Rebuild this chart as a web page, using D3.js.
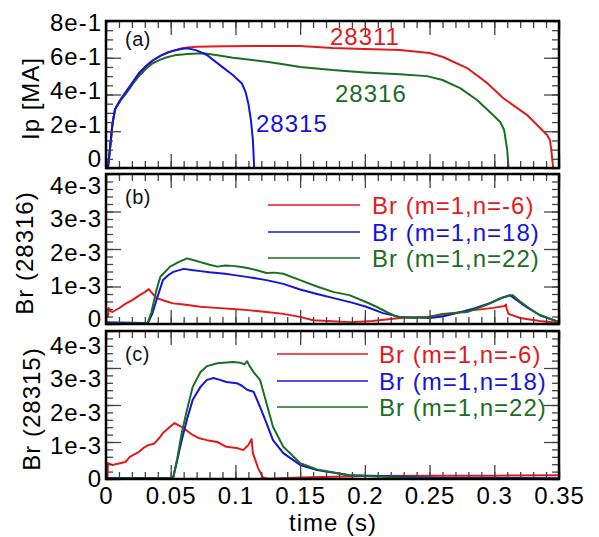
<!DOCTYPE html>
<html><head><meta charset="utf-8">
<script src="https://cdn.jsdelivr.net/npm/d3@7/dist/d3.min.js"></script>
<style>
body{margin:0;background:#fff;}
text{font-family:"Liberation Sans",Arial,sans-serif;}
</style></head>
<body><svg id="c" width="599" height="537"></svg>
<script>
// ---------- DATA ----------
const xTicks = [0, 0.05, 0.1, 0.15, 0.2, 0.25, 0.3, 0.35];
const xTickLabels = ["0","0.05","0.1","0.15","0.2","0.25","0.3","0.35"];
const ipTicks = [0, 0.2, 0.4, 0.6, 0.8];
const brTicks = [0, 0.001, 0.002, 0.003, 0.004];
const shots = ["28311", "28316", "28315"];
const modes = ["Br (m=1,n=-6)", "Br (m=1,n=18)", "Br (m=1,n=22)"];

// Panel (a): Ip [MA] vs time (s)
const ip28311 = [[0,0],[0.0015,0],[0.003,0.1],[0.005,0.24],[0.007,0.32],[0.011,0.37],[0.016,0.42],[0.021,0.47],[0.026,0.52],[0.031,0.555],[0.036,0.585],[0.042,0.61],[0.047,0.627],[0.053,0.64],[0.058,0.65],[0.063,0.656],[0.07,0.66],[0.09,0.662],[0.12,0.664],[0.15,0.664],[0.175,0.653],[0.2,0.648],[0.227,0.642],[0.25,0.626],[0.2604,0.604],[0.279,0.544],[0.2944,0.463],[0.3068,0.381],[0.3254,0.288],[0.3408,0.18],[0.343,0.152],[0.344,0.1],[0.3455,0]];
const ip28316 = [[0,0],[0.0015,0],[0.003,0.1],[0.005,0.24],[0.007,0.32],[0.011,0.365],[0.016,0.41],[0.021,0.46],[0.026,0.505],[0.031,0.54],[0.036,0.57],[0.042,0.59],[0.047,0.603],[0.053,0.613],[0.063,0.621],[0.075,0.624],[0.085,0.615],[0.098,0.6],[0.11,0.59],[0.124,0.578],[0.137,0.565],[0.15,0.55],[0.175,0.533],[0.2,0.52],[0.227,0.51],[0.248,0.5],[0.26,0.479],[0.2736,0.435],[0.2867,0.37],[0.299,0.288],[0.3046,0.25],[0.3076,0.207],[0.31,0.098],[0.311,0]];
const ip28315 = [[0,0],[0.0015,0],[0.003,0.1],[0.005,0.24],[0.007,0.32],[0.011,0.37],[0.016,0.42],[0.021,0.47],[0.026,0.52],[0.031,0.555],[0.036,0.585],[0.042,0.61],[0.047,0.627],[0.053,0.64],[0.058,0.648],[0.063,0.652],[0.07,0.64],[0.078,0.615],[0.088,0.56],[0.098,0.506],[0.105,0.46],[0.108,0.41],[0.11,0.35],[0.112,0.26],[0.1135,0.15],[0.1145,0]];

// Panel (b): Br, shot 28316 (T)
const b28316_n6 = [[0,0.19e-3],[0.0015,0.2e-3],[0.002,0.43e-3],[0.003,0.35e-3],[0.005,0.32e-3],[0.01,0.42e-3],[0.0155,0.55e-3],[0.02,0.63e-3],[0.026,0.77e-3],[0.03,0.85e-3],[0.033,0.93e-3],[0.035,0.85e-3],[0.039,0.69e-3],[0.045,0.62e-3],[0.052,0.55e-3],[0.06,0.52e-3],[0.073,0.46e-3],[0.085,0.43e-3],[0.098,0.4e-3],[0.11,0.37e-3],[0.124,0.32e-3],[0.137,0.27e-3],[0.15,0.19e-3],[0.16,0.1e-3],[0.189,0.05e-3],[0.206,0.08e-3],[0.227,0.16e-3],[0.248,0.19e-3],[0.268,0.29e-3],[0.284,0.37e-3],[0.299,0.43e-3],[0.308,0.48e-3],[0.309,0.52e-3],[0.3095,0.42e-3],[0.311,0.27e-3],[0.32,0.16e-3],[0.335,0.08e-3],[0.35,0.03e-3]];
const b28316_n18 = [[0,0.05e-3],[0.03,0.03e-3],[0.0325,0.03e-3],[0.036,0.3e-3],[0.039,0.64e-3],[0.044,1.17e-3],[0.048,1.3e-3],[0.052,1.39e-3],[0.06,1.47e-3],[0.066,1.44e-3],[0.073,1.41e-3],[0.08,1.38e-3],[0.086,1.36e-3],[0.092,1.34e-3],[0.098,1.31e-3],[0.11,1.25e-3],[0.124,1.17e-3],[0.137,1.07e-3],[0.15,0.92e-3],[0.163,0.8e-3],[0.176,0.69e-3],[0.19,0.57e-3],[0.201,0.46e-3],[0.214,0.29e-3],[0.227,0.19e-3],[0.25,0.16e-3],[0.26,0.2e-3],[0.271,0.29e-3],[0.285,0.42e-3],[0.297,0.56e-3],[0.306,0.7e-3],[0.312,0.77e-3],[0.318,0.62e-3],[0.325,0.45e-3],[0.335,0.24e-3],[0.35,0.05e-3]];
const b28316_n22 = [[0,0.02e-3],[0.032,0.02e-3],[0.035,0.3e-3],[0.039,0.91e-3],[0.042,1.26e-3],[0.0495,1.53e-3],[0.056,1.65e-3],[0.0625,1.75e-3],[0.068,1.7e-3],[0.073,1.65e-3],[0.08,1.58e-3],[0.086,1.53e-3],[0.092,1.56e-3],[0.098,1.55e-3],[0.105,1.52e-3],[0.111,1.48e-3],[0.118,1.42e-3],[0.124,1.36e-3],[0.13,1.37e-3],[0.137,1.34e-3],[0.15,1.17e-3],[0.163,1.0e-3],[0.176,0.85e-3],[0.188,0.77e-3],[0.2,0.6e-3],[0.209,0.46e-3],[0.218,0.3e-3],[0.225,0.19e-3],[0.237,0.16e-3],[0.25,0.19e-3],[0.26,0.27e-3],[0.279,0.32e-3],[0.294,0.51e-3],[0.305,0.69e-3],[0.314,0.77e-3],[0.32,0.6e-3],[0.327,0.42e-3],[0.335,0.24e-3],[0.35,0.05e-3]];

// Panel (c): Br, shot 28315 (T)
const b28315_n6 = [[0,0.05e-3],[0.0012,0.05e-3],[0.0015,0.43e-3],[0.005,0.38e-3],[0.01,0.42e-3],[0.015,0.46e-3],[0.0185,0.6e-3],[0.021,0.65e-3],[0.025,0.72e-3],[0.029,0.84e-3],[0.033,0.92e-3],[0.037,0.95e-3],[0.041,1.1e-3],[0.044,1.24e-3],[0.0495,1.41e-3],[0.053,1.51e-3],[0.0597,1.38e-3],[0.067,1.19e-3],[0.072,1.1e-3],[0.078,1.05e-3],[0.086,1.0e-3],[0.093,0.87e-3],[0.101,0.84e-3],[0.106,0.78e-3],[0.11,0.92e-3],[0.1125,1.08e-3],[0.1135,0.7e-3],[0.1175,0.3e-3],[0.121,0.05e-3],[0.125,0.01e-3],[0.15,0.04e-3],[0.2,0.08e-3],[0.25,0.09e-3],[0.3,0.09e-3],[0.35,0.1e-3]];
const b28315_n18 = [[0,0.03e-3],[0.05,0.03e-3],[0.052,0.05e-3],[0.055,0.5e-3],[0.0585,1.05e-3],[0.0625,1.6e-3],[0.067,2.14e-3],[0.073,2.49e-3],[0.078,2.68e-3],[0.083,2.73e-3],[0.088,2.68e-3],[0.093,2.62e-3],[0.101,2.59e-3],[0.105,2.52e-3],[0.109,2.41e-3],[0.114,2.36e-3],[0.119,1.95e-3],[0.124,1.51e-3],[0.129,1.05e-3],[0.137,0.7e-3],[0.15,0.38e-3],[0.163,0.24e-3],[0.188,0.1e-3],[0.227,0.07e-3],[0.26,0.03e-3],[0.35,0.02e-3]];
const b28315_n22 = [[0,0.02e-3],[0.05,0.02e-3],[0.052,0.05e-3],[0.055,0.55e-3],[0.0585,1.24e-3],[0.0625,1.86e-3],[0.067,2.49e-3],[0.073,2.89e-3],[0.078,3.05e-3],[0.086,3.13e-3],[0.098,3.16e-3],[0.104,3.14e-3],[0.107,3.1e-3],[0.109,3.18e-3],[0.111,3.05e-3],[0.114,2.89e-3],[0.119,2.68e-3],[0.124,2.05e-3],[0.129,1.41e-3],[0.137,0.87e-3],[0.15,0.43e-3],[0.163,0.26e-3],[0.188,0.1e-3],[0.227,0.04e-3],[0.26,0.01e-3],[0.35,0]];

// ---------- DRAW ----------
const RED = "#e31a1c", BLUE = "#1414dc", GREEN = "#1b6e20";
const svg = d3.select("#c");
const X0 = 106, X1 = 559;
const x = d3.scaleLinear().domain([0, 0.35]).range([X0, X1]);

const panels = [
  {top:21, bot:168, dom:[0,0.8], ticks:ipTicks, minorStep:0.05, label:"(a)", title:"Ip [MA]", titleX:39,
   series:[[ip28311,RED],[ip28316,GREEN],[ip28315,BLUE]], labY:46, xLabels:false},
  {top:174, bot:324, dom:[0,0.004], ticks:brTicks, minorStep:0.0002, label:"(b)", title:"Br (28316)", titleX:33,
   series:[[b28316_n6,RED],[b28316_n18,BLUE],[b28316_n22,GREEN]], labY:204, xLabels:false,
   legend:{x0:268, x1:360, tx:372, ys:[205,232,258]}},
  {top:331, bot:479, dom:[0,0.004], ticks:brTicks, minorStep:0.0002, label:"(c)", title:"Br (28315)", titleX:40,
   series:[[b28315_n6,RED],[b28315_n18,BLUE],[b28315_n22,GREEN]], labY:361, xLabels:true,
   legend:{x0:277, x1:368, tx:379, ys:[354,381,407]}}
];
// measured label-centre positions relative to tick positions (compressed a bit in the original)
const labelFit = [{s:0.925, lc:89.8, tc:94.5},{s:0.887, lc:251.8, tc:249},{s:0.897, lc:412.8, tc:406.2}];

const fmt = d => d === 0 ? "0" : d3.format(".0e")(d);
const xMinor = d3.range(0, 0.3501, 0.01);
const TICKC = "#444";

panels.forEach((p, i) => {
  const y = d3.scaleLinear().domain(p.dom).range([p.bot, p.top]);
  const g = svg.append("g");
  const yMinor = d3.range(p.dom[0], p.dom[1] + p.minorStep/2, p.minorStep);

  const clipId = "clip" + i;
  svg.append("clipPath").attr("id", clipId).append("rect")
    .attr("x", X0).attr("y", p.top).attr("width", X1 - X0).attr("height", p.bot - p.top);

  // data lines
  const line = d3.line().x(d => x(d[0])).y(d => y(d[1]));
  const dg = g.append("g").attr("clip-path", `url(#${clipId})`);
  p.series.forEach(([data, col]) => {
    dg.append("path").datum(data).attr("d", line)
      .attr("fill", "none").attr("stroke", col).attr("stroke-width", 2).attr("stroke-linejoin", "round");
  });

  // ticks (inward on all four sides), labels added separately
  const mk = (axisFn, scale, vals, len, tx, ty) => {
    const a = axisFn(scale).tickValues(vals).tickSize(-len).tickSizeOuter(0).tickFormat("");
    const ag = g.append("g").attr("transform", `translate(${tx},${ty})`).call(a);
    ag.select(".domain").remove();
    ag.selectAll(".tick text").remove();
    ag.selectAll(".tick line").attr("stroke", TICKC).attr("stroke-width", 1.3);
    return ag;
  };
  mk(d3.axisBottom, x, xMinor, 7, 0, p.bot);
  mk(d3.axisTop, x, xMinor, 7, 0, p.top);
  mk(d3.axisLeft, y, yMinor, 7, X0, 0);
  mk(d3.axisRight, y, yMinor, 7, X1, 0);
  mk(d3.axisTop, x, xTicks, 14, 0, p.top);
  mk(d3.axisRight, y, p.ticks, 15, X1, 0);
  const yl = mk(d3.axisLeft, y, p.ticks, 15, X0, 0);
  const lf = labelFit[i];
  yl.selectAll(".tick").append("text")
    .attr("x", -4).attr("dy", "0.35em")
    .attr("y", d => (lf.lc + lf.s * (y(d) - lf.tc)) - y(d))
    .attr("text-anchor", "end").attr("fill", "#000")
    .style("font-size", "24px").style("letter-spacing", "1px")
    .text(fmt);
  const xb = mk(d3.axisBottom, x, xTicks, 14, 0, p.bot);
  if (p.xLabels) {
    xb.selectAll(".tick").append("text")
      .attr("y", 8).attr("dy", "0.71em").attr("text-anchor", "middle").attr("fill", "#000")
      .style("font-size", "24px").style("letter-spacing", "1px")
      .text(d => xTickLabels[xTicks.indexOf(d)]);
  }

  // frame
  g.append("rect").attr("x", X0).attr("y", p.top).attr("width", X1 - X0).attr("height", p.bot - p.top)
    .attr("fill", "none").attr("stroke", "#000").attr("stroke-width", 2.5);

  // panel letter
  g.append("text").attr("x", 125).attr("y", p.labY).text(p.label)
    .style("font-size", "20px").style("letter-spacing", "0.5px").attr("fill", "#111");

  // y title
  g.append("text").attr("transform", `translate(${p.titleX},${(p.top + p.bot) / 2 + 4}) rotate(-90)`)
    .attr("text-anchor", "middle").style("font-size", "24px").style("letter-spacing", "1px")
    .text(p.title);

  // legend
  if (p.legend) {
    p.series.forEach(([d, col], k) => {
      const ly = p.legend.ys[k];
      g.append("line").attr("x1", p.legend.x0).attr("x2", p.legend.x1).attr("y1", ly).attr("y2", ly)
        .attr("stroke", col).attr("stroke-width", 1.3);
      g.append("text").attr("x", p.legend.tx).attr("y", ly + 9).attr("fill", col)
        .style("font-size", "24px").style("letter-spacing", "1px").text(modes[k]);
    });
  }
});

// shot labels in panel (a)
const shotPos = [[330,45,RED],[335,102,GREEN],[256,132,BLUE]];
shots.forEach((s, k) => {
  svg.append("text").attr("x", shotPos[k][0]).attr("y", shotPos[k][1]).attr("fill", shotPos[k][2])
    .style("font-size", "24px").style("letter-spacing", "1px").text(s);
});

// x title
svg.append("text").attr("x", 333).attr("y", 531).attr("text-anchor", "middle")
  .style("font-size", "24px").style("letter-spacing", "1px").text("time (s)");
</script></body></html>
